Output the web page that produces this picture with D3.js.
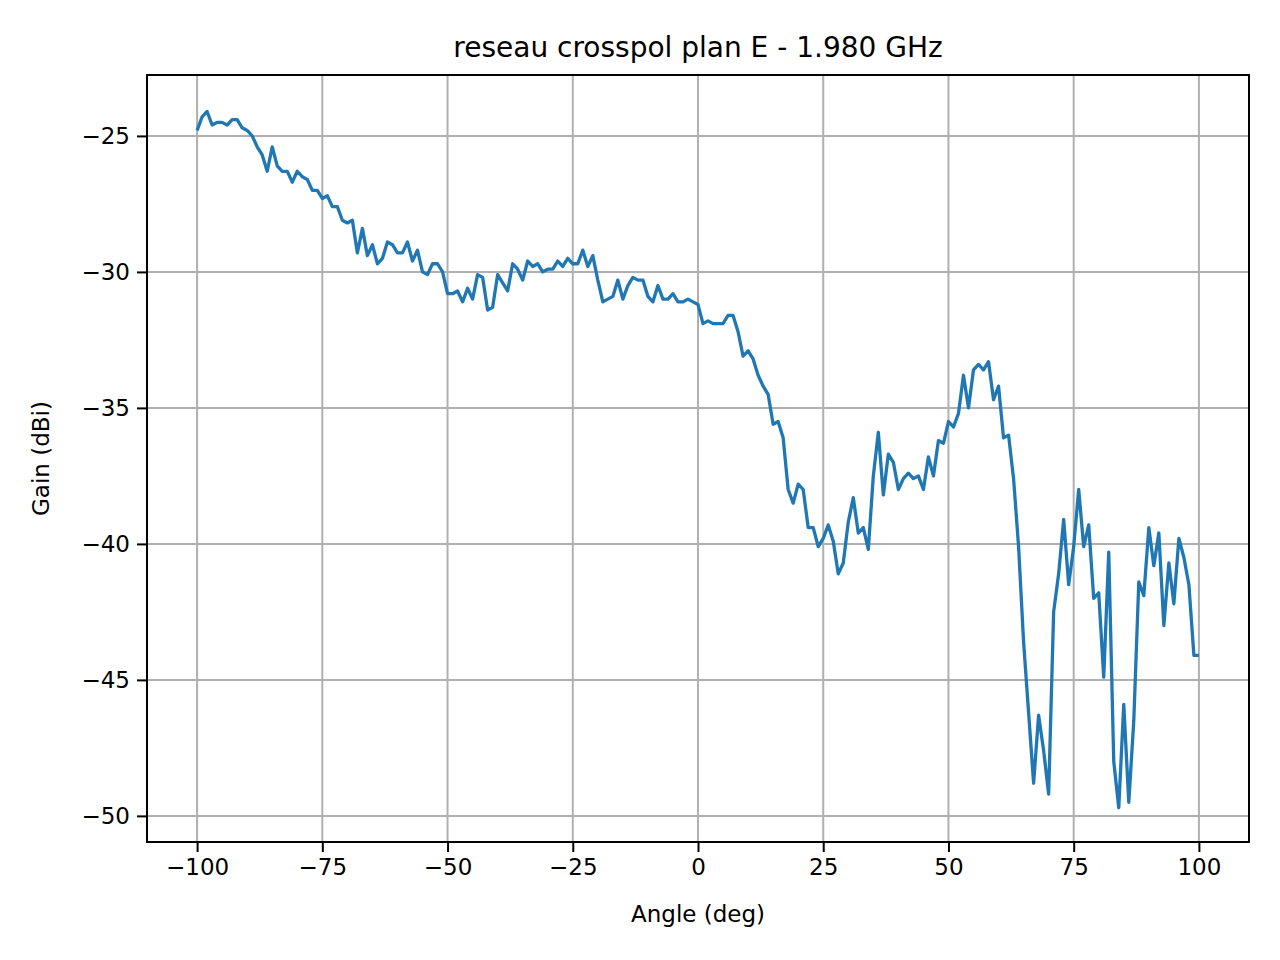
<!DOCTYPE html>
<html><head><meta charset="utf-8">
<script src="https://cdn.jsdelivr.net/npm/d3@7"></script>
<style>body{margin:0;background:#fff}text{font-family:"DejaVu Sans",sans-serif}</style>
</head><body><svg id="c" width="1280" height="960"></svg>
<script>
const angleStart = -100;
const gain = [-24.8,-24.3,-24.1,-24.6,-24.5,-24.5,-24.6,-24.4,-24.4,-24.7,-24.8,-25.0,-25.4,-25.7,-26.3,-25.4,-26.1,-26.3,-26.3,-26.7,-26.3,-26.5,-26.6,-27.0,-27.0,-27.3,-27.2,-27.6,-27.6,-28.1,-28.2,-28.1,-29.3,-28.4,-29.4,-29.0,-29.7,-29.5,-28.9,-29.0,-29.3,-29.3,-28.9,-29.6,-29.2,-30.0,-30.1,-29.7,-29.7,-30.0,
-30.8,-30.8,-30.7,-31.1,-30.6,-31.0,-30.1,-30.2,-31.4,-31.3,-30.1,-30.4,-30.7,-29.7,-29.9,-30.3,-29.6,-29.8,-29.7,-30.0,-29.9,-29.9,-29.6,-29.8,-29.5,-29.7,-29.7,-29.2,-29.8,-29.4,-30.3,-31.1,-31.0,-30.9,-30.3,-31.0,-30.5,-30.2,-30.3,-30.3,-30.9,-31.1,-30.5,-31.0,-31.0,-30.8,-31.1,-31.1,-31.0,-31.1,
-31.2,-31.9,-31.8,-31.9,-31.9,-31.9,-31.6,-31.6,-32.2,-33.1,-32.9,-33.2,-33.8,-34.2,-34.5,-35.6,-35.5,-36.1,-38.0,-38.5,-37.8,-38.0,-39.4,-39.4,-40.1,-39.8,-39.3,-39.9,-41.1,-40.7,-39.2,-38.3,-39.6,-39.4,-40.2,-37.5,-35.9,-38.2,-36.7,-37.0,-38.0,-37.6,-37.4,-37.6,-37.5,-38.0,-36.8,-37.5,-36.2,-36.3,
-35.5,-35.7,-35.2,-33.8,-35.0,-33.6,-33.4,-33.6,-33.3,-34.7,-34.2,-36.1,-36.0,-37.6,-40.1,-43.6,-46.2,-48.8,-46.3,-47.6,-49.2,-42.5,-41.1,-39.1,-41.5,-40.1,-38.0,-40.1,-39.3,-42.0,-41.8,-44.9,-40.3,-48.0,-49.7,-45.9,-49.5,-46.5,-41.4,-41.9,-39.4,-40.8,-39.6,-43.0,-40.7,-42.2,-39.8,-40.5,-41.5,-44.1,-44.1];
const xTicks = [-100,-75,-50,-25,0,25,50,75,100];
const yTicks = [-25,-30,-35,-40,-45,-50];
const title = "reseau crosspol plan E - 1.980 GHz";

const L=147,T=75,W=1102,H=767;
const svg=d3.select("#c");
const x=d3.scaleLinear().domain([-110,110]).range([L,L+W]);
const y=d3.scaleLinear().domain([-50.96,-22.76]).range([T+H,T]);
const g=svg.append("g");
g.selectAll(".gx").data(xTicks).join("line").attr("x1",d=>x(d)).attr("x2",d=>x(d)).attr("y1",T).attr("y2",T+H).attr("stroke","#b0b0b0").attr("stroke-width",2);
g.selectAll(".gy").data(yTicks).join("line").attr("y1",d=>y(d)).attr("y2",d=>y(d)).attr("x1",L).attr("x2",L+W).attr("stroke","#b0b0b0").attr("stroke-width",2);
const fmt=d=>d<0?"\u2212"+Math.abs(d):String(d);
const ax=svg.append("g").attr("transform",`translate(0,${T+H})`).call(d3.axisBottom(x).tickValues(xTicks).tickFormat(fmt).tickSize(10).tickPadding(7));
const ay=svg.append("g").attr("transform",`translate(${L},0)`).call(d3.axisLeft(y).tickValues(yTicks).tickFormat(fmt).tickSize(10).tickPadding(7));
[ax,ay].forEach(a=>{a.select(".domain").remove();a.attr("font-size",null);a.selectAll("text").attr("font-size",23).attr("fill","#000").style("font-family","DejaVu Sans");a.selectAll("line").attr("stroke","#000").attr("stroke-width",2);});
const data=gain.map((v,i)=>[angleStart+i,v]);
svg.append("path").datum(data).attr("fill","none").attr("stroke","#1f77b4").attr("stroke-width",3.3).attr("stroke-linejoin","round")
 .attr("d",d3.line().x(d=>x(d[0])).y(d=>y(d[1])));
svg.append("rect").attr("x",L).attr("y",T).attr("width",W).attr("height",H).attr("fill","none").attr("stroke","#000").attr("stroke-width",2);
svg.append("text").attr("x",L+W/2).attr("y",57).attr("text-anchor","middle").attr("font-size",28).text(title);
svg.append("text").attr("x",L+W/2).attr("y",922).attr("text-anchor","middle").attr("font-size",23).text("Angle (deg)");
svg.append("text").attr("transform",`translate(49,${T+H/2}) rotate(-90)`).attr("text-anchor","middle").attr("font-size",23).text("Gain (dBi)");
</script></body></html>
